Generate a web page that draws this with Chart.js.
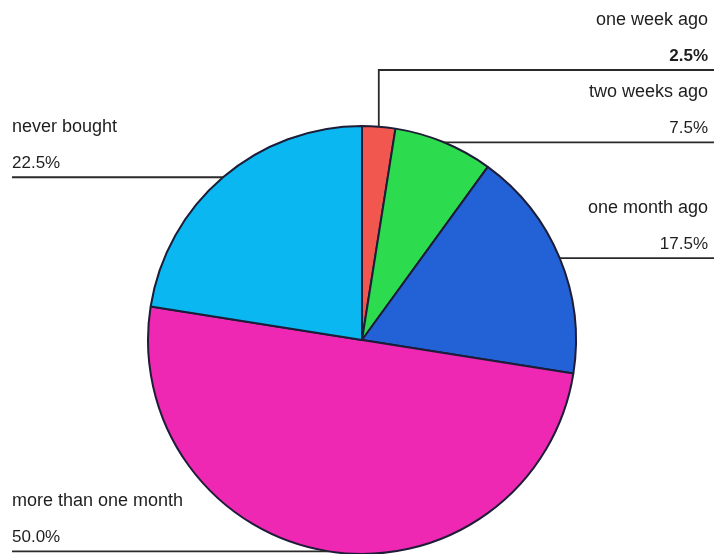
<!DOCTYPE html>
<html>
<head>
<meta charset="utf-8">
<script src="https://cdn.jsdelivr.net/npm/chart.js@4/dist/chart.umd.min.js"></script>
<style>
  html, body { margin: 0; padding: 0; background: #ffffff; }
  #wrap { width: 714px; height: 554px; overflow: hidden; }
  canvas { display: block; }
</style>
</head>
<body>
<div id="wrap"><canvas id="pie" width="714" height="554"></canvas></div>
<script>
// Last purchase: share of respondents per answer
const categories = ['one week ago', 'two weeks ago', 'one month ago', 'more than one month', 'never bought'];
const shares = [2.5, 7.5, 17.5, 50.0, 22.5];
const sliceColors = ['#f2574f', '#2ddb4f', '#2362d6', '#ee28b2', '#0bb7f0'];

// Where each caption sits: which side of the page, and an optional
// height for the leader line when it should not leave the slice level.
const captionSide = ['right', 'right', 'right', 'left', 'left'];
const captionLineY = [70, null, null, null, null];
const valueBold = [true, false, false, false, false];

const FONT = '"Liberation Sans", Arial, sans-serif';

const leaderLabels = {
  id: 'leaderLabels',
  afterDatasetsDraw(chart) {
    const ctx = chart.ctx;
    const meta = chart.getDatasetMeta(0);
    const W = chart.width;
    ctx.save();
    meta.data.forEach((arc, i) => {
      const p = arc.getProps(['x', 'y', 'startAngle', 'endAngle', 'outerRadius'], true);
      const mid = (p.startAngle + p.endAngle) / 2;
      const ex = p.x + Math.cos(mid) * p.outerRadius;
      const ey = p.y + Math.sin(mid) * p.outerRadius;
      const ly = captionLineY[i] != null ? captionLineY[i] : ey;
      const right = captionSide[i] === 'right';
      const farX = right ? W : 12;

      // leader line
      ctx.strokeStyle = '#2a2a2a';
      ctx.lineWidth = 1.8;
      ctx.beginPath();
      ctx.moveTo(ex, ey);
      ctx.lineTo(ex, ly);
      ctx.lineTo(farX, ly);
      ctx.stroke();

      // caption: name, then value, above the line
      const tx = right ? W - 6 : 12;
      ctx.textAlign = right ? 'right' : 'left';
      ctx.textBaseline = 'middle';
      ctx.fillStyle = '#1e1e1e';
      ctx.font = '18px ' + FONT;
      ctx.fillText(categories[i], tx, ly - 50);
      ctx.font = (valueBold[i] ? 'bold ' : '') + '17px ' + FONT;
      ctx.fillText(shares[i].toFixed(1) + '%', tx, ly - 14);
    });
    ctx.restore();
  }
};

new Chart(document.getElementById('pie'), {
  type: 'pie',
  data: {
    labels: categories,
    datasets: [{
      data: shares,
      backgroundColor: sliceColors,
      borderColor: '#1d1d38',
      borderWidth: 2,
      radius: 214
    }]
  },
  options: {
    responsive: false,
    devicePixelRatio: 1,
    animation: false,
    layout: { padding: { left: 10, right: 0, top: 126, bottom: 0 } },
    plugins: {
      legend: { display: false },
      tooltip: { enabled: false }
    }
  },
  plugins: [leaderLabels]
});
</script>
</body>
</html>
